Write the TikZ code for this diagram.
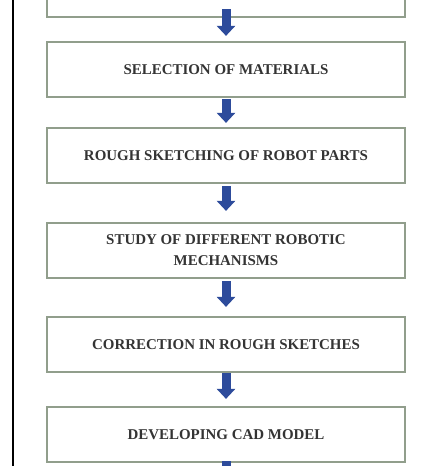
\documentclass[tikz,border=0pt]{standalone}
\usepackage{fontspec}
\setmainfont{Liberation Serif}
\usetikzlibrary{arrows.meta}
\definecolor{boxline}{RGB}{145,158,140}
\definecolor{arrowblue}{RGB}{45,75,155}
\definecolor{txtgray}{RGB}{52,52,52}
\tikzset{
  stepbox/.style={draw=boxline, line width=2.2bp, fill=white, minimum width=358bp,
    minimum height=55bp, align=center, text=txtgray,
    font=\fontsize{15}{21}\selectfont\bfseries, inner sep=0pt},
  blockarrow/.style={draw=arrowblue, line width=9bp,
    -{Triangle[width=18bp,length=10bp]}},
}
\begin{document}
\begin{tikzpicture}[x=1bp,y=-1bp]
\useasboundingbox (0,0) rectangle (428,466);
\clip (0,0) rectangle (428,466);
\fill[white] (0,0) rectangle (428,466);
\draw[line width=2.2bp, black] (13,-2) -- (13,468);
\node[stepbox] (b1) at (226,-10.5) {};
\node[stepbox] (b2) at (226,69.5) {SELECTION OF MATERIALS};
\node[stepbox] (b3) at (226,155.5) {ROUGH SKETCHING OF ROBOT PARTS};
\node[stepbox] (b4) at (226,250.5) {STUDY OF DIFFERENT ROBOTIC\\MECHANISMS};
\node[stepbox] (b5) at (226,344.5) {CORRECTION IN ROUGH SKETCHES};
\node[stepbox] (b6) at (226,434.5) {DEVELOPING CAD MODEL};
\coordinate (end) at (226,490);
\draw[blockarrow] ([yshift=9bp]b1.south) -- ([yshift=5bp]b2.north);
\draw[blockarrow] ([yshift=-1bp]b2.south) -- ([yshift=4bp]b3.north);
\draw[blockarrow] ([yshift=-2bp]b3.south) -- ([yshift=11bp]b4.north);
\draw[blockarrow] ([yshift=-2bp]b4.south) -- ([yshift=9bp]b5.north);
\draw[blockarrow] ([yshift=0bp]b5.south) -- ([yshift=7bp]b6.north);
\draw[blockarrow] ([yshift=2bp]b6.south) -- (end);
\end{tikzpicture}
\end{document}
